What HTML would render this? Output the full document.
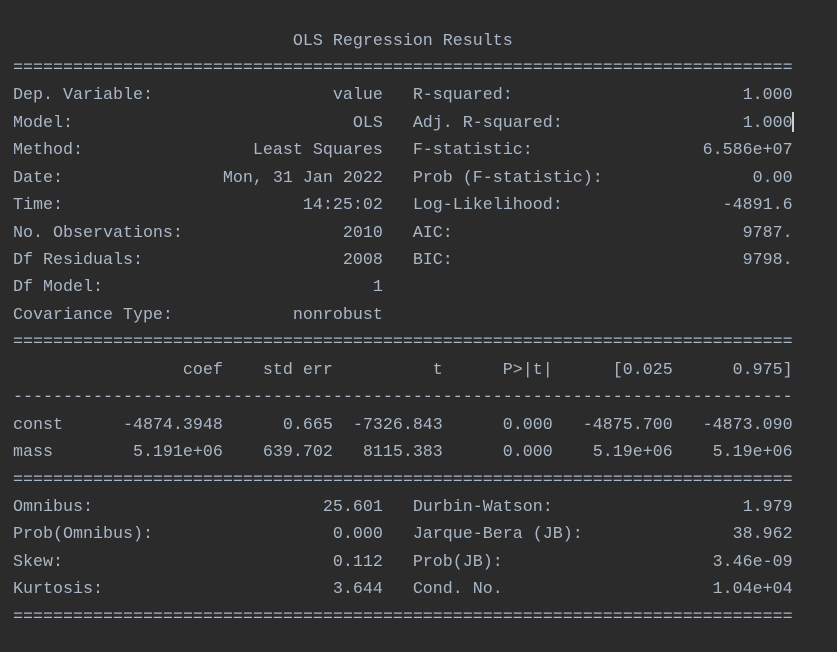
<!DOCTYPE html>
<html><head><meta charset="utf-8"><style>
html,body{margin:0;padding:0;background:#2b2b2b;width:837px;height:652px;overflow:hidden}
pre{position:absolute;left:13px;top:27.5px;margin:0;font-family:"Liberation Mono",monospace;font-size:16.67px;line-height:27.43px;color:#a9b7c6;white-space:pre}
.cur{position:absolute;left:792px;top:112px;width:2px;height:20px;background:#d0d0d0}
</style></head><body>
<pre>                            OLS Regression Results                            
==============================================================================
Dep. Variable:                  value   R-squared:                       1.000
Model:                            OLS   Adj. R-squared:                  1.000
Method:                 Least Squares   F-statistic:                 6.586e+07
Date:                Mon, 31 Jan 2022   Prob (F-statistic):               0.00
Time:                        14:25:02   Log-Likelihood:                -4891.6
No. Observations:                2010   AIC:                             9787.
Df Residuals:                    2008   BIC:                             9798.
Df Model:                           1                                         
Covariance Type:            nonrobust                                         
==============================================================================
                 coef    std err          t      P>|t|      [0.025      0.975]
------------------------------------------------------------------------------
const      -4874.3948      0.665  -7326.843      0.000   -4875.700   -4873.090
mass        5.191e+06    639.702   8115.383      0.000    5.19e+06    5.19e+06
==============================================================================
Omnibus:                       25.601   Durbin-Watson:                   1.979
Prob(Omnibus):                  0.000   Jarque-Bera (JB):               38.962
Skew:                           0.112   Prob(JB):                     3.46e-09
Kurtosis:                       3.644   Cond. No.                     1.04e+04
==============================================================================</pre>
<div class="cur"></div>
</body></html>
